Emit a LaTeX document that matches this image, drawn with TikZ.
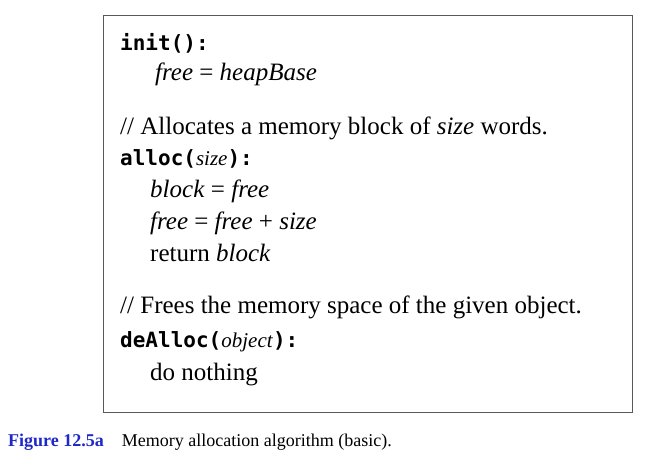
\documentclass[tikz,border=0pt]{standalone}
\usepackage{fontspec}
\setmainfont{Liberation Serif}
\setmonofont{DejaVu Sans Mono}
\usepackage{tikz}
\definecolor{figblue}{RGB}{30,40,200}
\tikzset{line/.style={anchor=base west, inner sep=0pt, font=\fontsize{25}{28}\selectfont},
  code/.style={anchor=base west, inner sep=0pt, font=\fontsize{21}{26}\selectfont\ttfamily\bfseries}}

\begin{document}
\begin{tikzpicture}[x=1pt, y=-1pt]
    \useasboundingbox (0, 0) rectangle (658, 461);
    \draw [gray!70!black, line width=0.8pt] (103, 15) rectangle (632, 412);

    \node [code] (init) at (120, 50) {init():};
    \node [line] (initfree) at (155, 80) {\textit{free} = \textit{heapBase}};

    \node [line] (c1) at (120, 134) {// Allocates a memory block of \textit{size} words.};
    \node [code] (alloc) at (120, 165) {alloc(\textnormal{\rmfamily\mdseries\itshape size}):};
    \node [line] (block) at (150, 197) {\textit{block} = \textit{free}};
    \node [line] (free) at (150, 229) {\textit{free} = \textit{free} + \textit{size}};
    \node [line] (ret) at (150, 261) {return \textit{block}};

    \node [line] (c2) at (120, 313) {// Frees the memory space of the given object.};
    \node [code] (dealloc) at (120, 347) {deAlloc(\textnormal{\rmfamily\mdseries\itshape object}):};
    \node [line] (nothing) at (150, 380) {do nothing};

    \node [line, font=\fontsize{18}{20}\selectfont] (cap) at (8, 446)
        {\textcolor{figblue}{\textbf{Figure 12.5a}}\quad Memory allocation algorithm (basic).};
\end{tikzpicture}
\end{document}
